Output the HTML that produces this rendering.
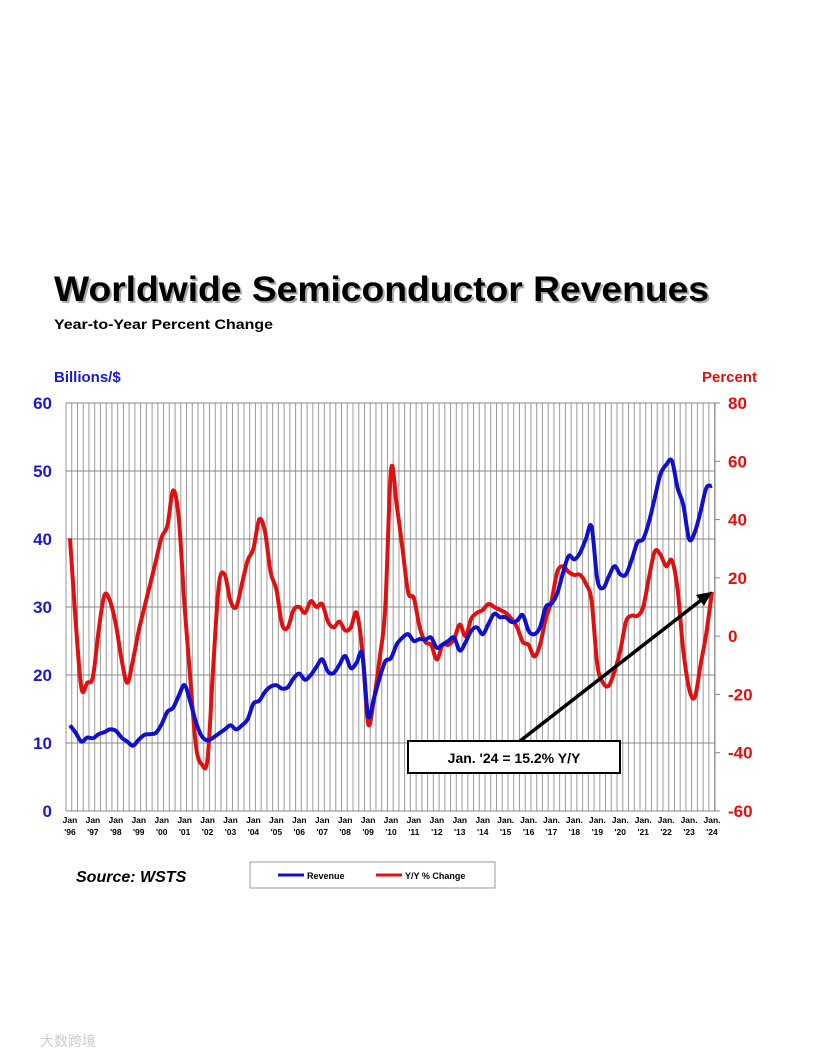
<!DOCTYPE html>
<html><head><meta charset="utf-8"><style>
body{margin:0;background:#fff;width:816px;height:1056px;overflow:hidden;font-family:"Liberation Sans",Arial,sans-serif}
</style></head><body>
<svg width="816" height="1056" viewBox="0 0 816 1056" xmlns="http://www.w3.org/2000/svg">
<text x="56" y="303" font-size="35" font-weight="bold" fill="#aaa" textLength="655" lengthAdjust="spacingAndGlyphs">Worldwide Semiconductor Revenues</text>
<text x="54" y="301" font-size="35" font-weight="bold" fill="#000" textLength="655" lengthAdjust="spacingAndGlyphs">Worldwide Semiconductor Revenues</text>
<text x="54" y="329" font-size="14" font-weight="bold" fill="#000" textLength="219" lengthAdjust="spacingAndGlyphs">Year-to-Year Percent Change</text>
<text x="54" y="382" font-size="15" font-weight="bold" fill="#1a1acc">Billions/$</text>
<text x="757" y="382" font-size="15" font-weight="bold" fill="#e01010" text-anchor="end">Percent</text>
<g id="grid"></g><g id="axes"></g><g id="series"></g>
<rect x="408" y="741" width="212" height="32" fill="#fff" stroke="#000" stroke-width="2"/>
<text x="514" y="763" font-size="14" font-weight="bold" text-anchor="middle">Jan. '24 = 15.2% Y/Y</text>
<text x="76" y="882" font-size="16" font-weight="bold" font-style="italic">Source: WSTS</text>
<rect x="250" y="862" width="245" height="26" fill="#fff" stroke="#999"/>
<line x1="278" y1="875" x2="304" y2="875" stroke="#1010cc" stroke-width="3"/>
<text x="307" y="879" font-size="9" font-weight="bold">Revenue</text>
<line x1="376" y1="875" x2="402" y2="875" stroke="#e01010" stroke-width="3"/>
<text x="405" y="879" font-size="9" font-weight="bold">Y/Y % Change</text>
<text x="40" y="1046" font-size="14" fill="#ccc">大数跨境</text>
</svg>
<script>
const revenue=[12.6,11.5,10.2,10.8,10.7,11.3,11.6,12.0,11.8,10.8,10.2,9.6,10.5,11.2,11.3,11.5,12.8,14.6,15.2,17.0,18.5,16.0,13.0,11.0,10.4,10.8,11.4,12.0,12.6,12.0,12.6,13.5,15.8,16.2,17.5,18.3,18.5,18.0,18.2,19.5,20.2,19.3,20.0,21.2,22.3,20.5,20.3,21.5,22.8,21.0,21.8,23.0,14.0,16.5,19.5,22.0,22.5,24.5,25.5,26.0,25.0,25.3,25.2,25.5,24.0,24.5,25.0,25.5,23.6,24.8,26.5,27.0,26.0,27.5,29.0,28.5,28.5,27.8,28.0,28.8,26.5,26.0,27.0,30.0,30.5,32.0,35.0,37.5,37.0,38.0,40.0,41.8,34.0,32.8,34.5,36.0,34.8,34.8,37.0,39.5,40.0,42.5,46.0,49.5,50.9,51.5,47.5,45.0,40.0,41.0,44.0,47.5,47.8];
const yoy=[33.6,5,-18,-16,-14,2,14,12,4,-8,-16,-8,2,10,18,26,34,38,50,40,10,-15,-38,-44,-42,-10,18,21,12,10,18,26,30,40,36,22,16,4,3,9,10,8,12,10,11,5,3,5,2,3,8,-5,-30,-22,-8,10,57,45,30,15,13,3,-2,-3,-8,-3,-3,-1,4,0,6,8,9,11,10,9,8,6,3,-2,-3,-7,-3,6,12,22,24,22,21,21,18,12,-10,-16,-17,-12,-5,5,7,7,10,20,29,28,24,26,16,-5,-18,-21,-10,1,15.2];
const yearLabels=["'96","'97","'98","'99","'00","'01","'02","'03","'04","'05","'06","'07","'08","'09","'10","'11","'12","'13","'14","'15","'16","'17","'18","'19","'20","'21","'22","'23","'24"];
const leftTicks=[0,10,20,30,40,50,60];
const rightTicks=[-60,-40,-20,0,20,40,60,80];
const NS="http://www.w3.org/2000/svg";
const L=66,R=715,T=403,B=811,X0=70,X1=712;
const xq=i=>X0+i*(X1-X0)/(revenue.length-1);
const yL=v=>B-(v-0)/(60-0)*(B-T);
const yR=v=>B-(v+60)/(140)*(B-T);
function mk(tag,attrs,parent,text){const e=document.createElementNS(NS,tag);for(const k in attrs)e.setAttribute(k,attrs[k]);if(text!==undefined)e.textContent=text;parent.appendChild(e);return e;}
function smooth(pts){let d='M'+pts[0][0].toFixed(1)+','+pts[0][1].toFixed(1);for(let i=0;i<pts.length-1;i++){const p0=pts[i-1]||pts[i],p1=pts[i],p2=pts[i+1],p3=pts[i+2]||p2;const c1=[p1[0]+(p2[0]-p0[0])/6,p1[1]+(p2[1]-p0[1])/6],c2=[p2[0]-(p3[0]-p1[0])/6,p2[1]-(p3[1]-p1[1])/6];d+=`C${c1[0].toFixed(1)},${c1[1].toFixed(1)} ${c2[0].toFixed(1)},${c2[1].toFixed(1)} ${p2[0].toFixed(1)},${p2[1].toFixed(1)}`;}return d;}
const grid=document.getElementById('grid'),axes=document.getElementById('axes'),ser=document.getElementById('series');
for(let x=L;x<=R+0.1;x+=5.74){const e=mk('line',{x1:x,x2:x,y1:T,y2:B,stroke:'#999','stroke-width':1},grid);

}
leftTicks.forEach(v=>{const e=mk('line',{x1:L,x2:R,y1:yL(v),y2:yL(v),stroke:'#888','stroke-width':1},grid);


const t=mk('text',{x:52,y:yL(v)+6,'font-size':17,'font-weight':'bold',fill:'#1a1acc','text-anchor':'end'},axes,String(v));

});
rightTicks.forEach(v=>{const t=mk('text',{x:728,y:yR(v)+6,'font-size':17,'font-weight':'bold',fill:'#e01010'},axes,String(v));


const k=mk('line',{x1:R,x2:R+5,y1:yR(v),y2:yR(v),stroke:'#888'},axes);

});
mk('line',{x1:R,x2:R,y1:T,y2:B,stroke:'#888'},axes);
yearLabels.forEach((lab,i)=>{const x=X0+i*(X1-X0)/(yearLabels.length-1);
const a=mk('text',{x:x,y:823,'font-size':8.5,'font-weight':'bold','text-anchor':'middle'},axes,i>=19?'Jan.':'Jan');


const b=mk('text',{x:x,y:835,'font-size':8.5,'font-weight':'bold','text-anchor':'middle'},axes,lab);

});
const pr=mk('path',{d:smooth(yoy.map((v,i)=>[xq(i),yR(v)])),fill:'none',stroke:'#e01010','stroke-width':4,'stroke-linejoin':'round'},ser);


const pb=mk('path',{d:smooth(revenue.map((v,i)=>[xq(i),yL(v)])),fill:'none',stroke:'#1010cc','stroke-width':4,'stroke-linejoin':'round'},ser);


const n=yoy.length-1,ex=xq(n),ey=yR(yoy[n]);
const ar=mk('line',{x1:520,y1:741,x2:ex-8,y2:ey+6,stroke:'#000','stroke-width':3.5},ser);


const ah=mk('polygon',{points:`${ex},${ey} ${ex-16},${ey+3} ${ex-8},${ey+14}`,fill:'#000'},ser);


</script>
</body></html>
